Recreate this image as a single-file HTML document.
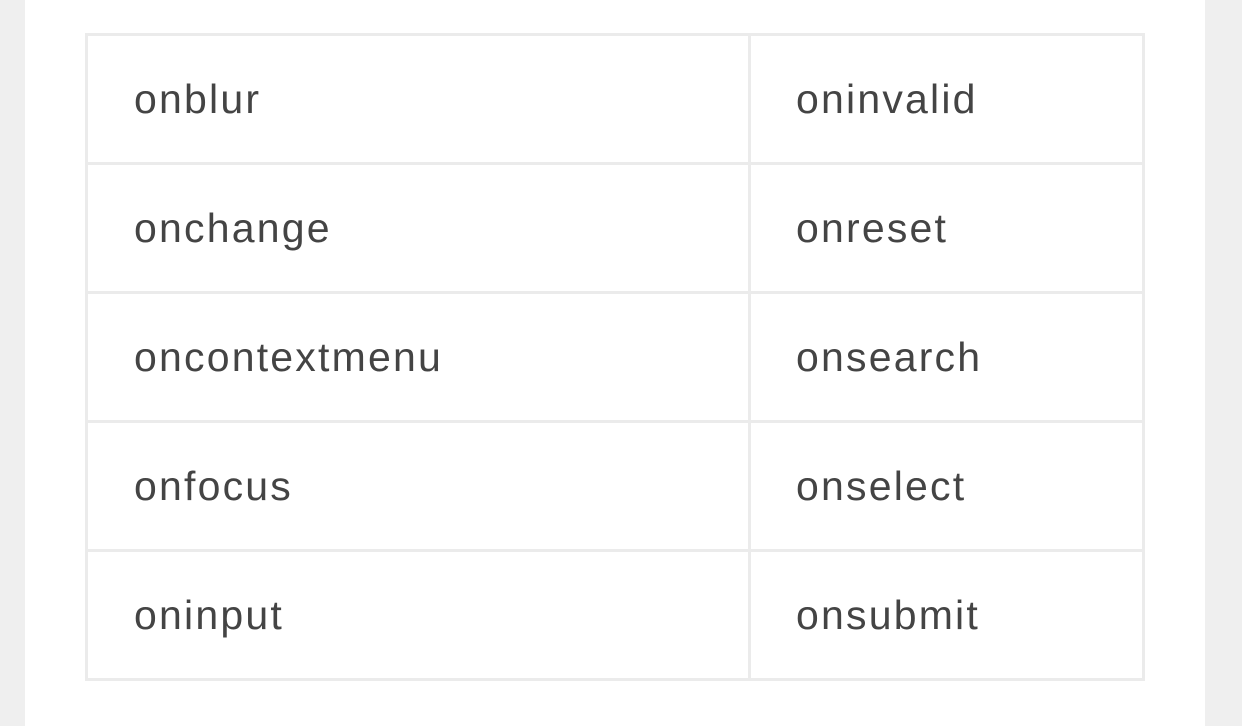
<!DOCTYPE html>
<html><head><style>
html,body{margin:0;padding:0;width:1242px;height:726px;background:#efefef;overflow:hidden}
.panel{position:absolute;left:25px;top:0;width:1180px;height:726px;background:#fff}
table{position:absolute;left:85px;top:33px;border-collapse:collapse;font-family:"Liberation Sans",sans-serif;font-size:41px;letter-spacing:2.2px;color:#444}
td{border:3px solid #ebebeb;height:129px;padding:0 0 0 46px;box-sizing:border-box;vertical-align:middle}
td.a{width:663px}td.b{width:394px;padding-left:45px}
</style></head><body>
<div class="panel"></div>
<table>
<tr><td class="a">onblur</td><td class="b">oninvalid</td></tr>
<tr><td class="a">onchange</td><td class="b">onreset</td></tr>
<tr><td class="a">oncontextmenu</td><td class="b">onsearch</td></tr>
<tr><td class="a">onfocus</td><td class="b">onselect</td></tr>
<tr><td class="a">oninput</td><td class="b">onsubmit</td></tr>
</table>
</body></html>
